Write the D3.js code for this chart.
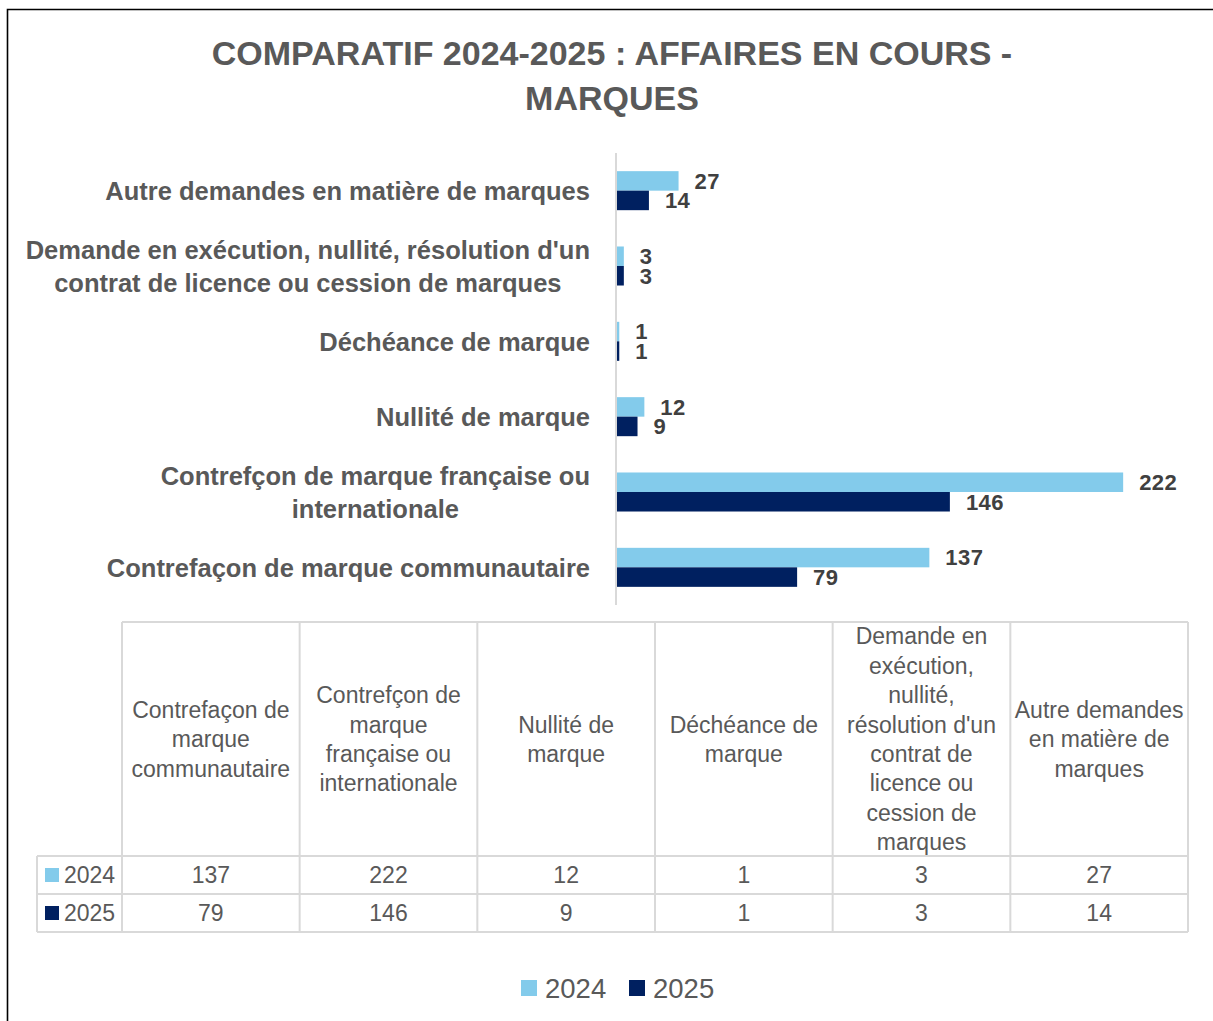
<!DOCTYPE html>
<html><head><meta charset="utf-8">
<script src="https://cdn.jsdelivr.net/npm/d3@7"></script>
<style>body{margin:0;background:#fff}svg{display:block}text{font-family:"Liberation Sans",Arial,sans-serif}</style>
</head><body>
<script>
const titleLines = ["COMPARATIF 2024-2025 : AFFAIRES EN COURS -", "MARQUES"];
const categories = [
  "Contrefaçon de marque communautaire",
  "Contrefçon de marque française ou internationale",
  "Nullité de marque",
  "Déchéance de marque",
  "Demande en exécution, nullité, résolution d'un contrat de licence ou cession de marques",
  "Autre demandes en matière de marques"
];
const axisLabelLines = [
  ["Contrefaçon de marque communautaire"],
  ["Contrefçon de marque française ou", "internationale"],
  ["Nullité de marque"],
  ["Déchéance de marque"],
  ["Demande en exécution, nullité, résolution d'un", "contrat de licence ou cession de marques"],
  ["Autre demandes en matière de marques"]
];
const tableHeaderLines = [
  ["Contrefaçon de", "marque", "communautaire"],
  ["Contrefçon de", "marque", "française ou", "internationale"],
  ["Nullité de", "marque"],
  ["Déchéance de", "marque"],
  ["Demande en", "exécution,", "nullité,", "résolution d'un", "contrat de", "licence ou", "cession de", "marques"],
  ["Autre demandes", "en matière de", "marques"]
];
const seriesNames = ["2024", "2025"];
const values2024 = [137, 222, 12, 1, 3, 27];
const values2025 = [79, 146, 9, 1, 3, 14];
const seriesColors = ["#83CBEB", "#002060"];

const W = 1213, H = 1021;
const svg = d3.select("body").append("svg").attr("width", W).attr("height", H);
svg.append("rect").attr("width", W).attr("height", H).attr("fill", "#fff");
svg.append("path").attr("d", `M7.5,${H} V9.5 H${W}`).attr("fill", "none").attr("stroke", "#000").attr("stroke-width", 1.6);

const gray = "#595959";
svg.append("g").selectAll("text").data(titleLines).join("text")
  .attr("x", 612).attr("y", (d, i) => 65 + i * 45)
  .attr("text-anchor", "middle").attr("font-size", 34).attr("font-weight", "bold").attr("fill", gray)
  .text(d => d);

const series = seriesNames.map((s, i) => ({ name: s, values: i === 0 ? values2024 : values2025, color: seriesColors[i] }));
const order = categories.map((c, i) => i).reverse();
const y = d3.scaleBand().domain(order.map(i => categories[i])).range([153, 605]).paddingInner(0.482).paddingOuter(0.241);
const ySub = d3.scaleBand().domain(seriesNames).range([0, y.bandwidth()]);
const x = d3.scaleLinear().domain([0, 250]).range([617, 1187]);

const gBars = svg.append("g");
series.forEach(s => {
  const g = gBars.append("g");
  g.selectAll("rect").data(categories).join("rect")
    .attr("x", x(0)).attr("y", c => y(c) + ySub(s.name))
    .attr("width", (c, i) => x(s.values[i]) - x(0)).attr("height", ySub.bandwidth())
    .attr("fill", s.color);
  g.selectAll("text").data(categories).join("text")
    .attr("x", (c, i) => x(s.values[i]) + 16).attr("y", c => y(c) + ySub(s.name) + ySub.bandwidth() / 2)
    .attr("dy", "0.36em").attr("font-size", 22).attr("font-weight", "bold").attr("fill", "#404040")
    .attr("letter-spacing", 0.4)
    .text((c, i) => s.values[i]);
});
svg.append("line").attr("x1", 616).attr("x2", 616).attr("y1", 153).attr("y2", 605).attr("stroke", "#d9d9d9").attr("stroke-width", 2);

const gLab = svg.append("g");
categories.forEach((c, i) => {
  const lines = axisLabelLines[i];
  const cy = y(c) + y.bandwidth() / 2;
  const t = gLab.append("text").attr("font-size", 25.5).attr("font-weight", "bold").attr("fill", gray)
    .attr("text-anchor", "middle");
  lines.forEach((l, j) => {
    t.append("tspan").attr("x", 0).attr("y", cy + (j - (lines.length - 1) / 2) * 33).attr("dy", "0.36em").text(l);
  });
  const maxW = d3.max(t.selectAll("tspan").nodes(), n => n.getComputedTextLength());
  t.selectAll("tspan").attr("x", 590 - maxW / 2);
});

const colX = d3.scaleBand().domain(categories).range([122, 1188]);
const legendColX = 37;
const headTop = 622, headBot = 856, rowH = 38;
const gT = svg.append("g");
const bc = "#d9d9d9";
gT.append("line").attr("x1", 122).attr("x2", 1188).attr("y1", headTop).attr("y2", headTop).attr("stroke", bc).attr("stroke-width", 2);
[0, 1, 2].forEach(k => gT.append("line").attr("x1", legendColX).attr("x2", 1188).attr("y1", headBot + k * rowH).attr("y2", headBot + k * rowH).attr("stroke", bc).attr("stroke-width", 2));
gT.append("line").attr("x1", legendColX).attr("x2", legendColX).attr("y1", headBot).attr("y2", headBot + 2 * rowH).attr("stroke", bc).attr("stroke-width", 2);
categories.forEach(c => gT.append("line").attr("x1", colX(c)).attr("x2", colX(c)).attr("y1", headTop).attr("y2", headBot + 2 * rowH).attr("stroke", bc).attr("stroke-width", 2));
gT.append("line").attr("x1", 1188).attr("x2", 1188).attr("y1", headTop).attr("y2", headBot + 2 * rowH).attr("stroke", bc).attr("stroke-width", 2);
categories.forEach((c, i) => {
  const lines = tableHeaderLines[i];
  const cx = colX(c) + colX.bandwidth() / 2;
  const cy = (headTop + headBot) / 2;
  const t = gT.append("text").attr("font-size", 23).attr("fill", gray).attr("text-anchor", "middle");
  lines.forEach((l, j) => t.append("tspan").attr("x", cx).attr("y", cy + (j - (lines.length - 1) / 2) * 29.4).attr("dy", "0.36em").text(l));
});
series.forEach((s, k) => {
  const cy = headBot + k * rowH + rowH / 2;
  gT.append("rect").attr("x", 45).attr("y", cy - 7).attr("width", 14).attr("height", 14).attr("fill", s.color);
  gT.append("text").attr("x", 64).attr("y", cy).attr("dy", "0.36em").attr("font-size", 23).attr("fill", gray).text(s.name);
  categories.forEach((c, i) => {
    gT.append("text").attr("x", colX(c) + colX.bandwidth() / 2).attr("y", cy).attr("dy", "0.36em")
      .attr("text-anchor", "middle").attr("font-size", 23).attr("fill", gray).text(s.values[i]);
  });
});

const legX = [521, 629];
series.forEach((s, k) => {
  svg.append("rect").attr("x", legX[k]).attr("y", 980).attr("width", 16).attr("height", 16).attr("fill", s.color);
  svg.append("text").attr("x", legX[k] + 24).attr("y", 988).attr("dy", "0.36em").attr("font-size", 27.5).attr("fill", gray).text(s.name);
});
</script>
</body></html>
